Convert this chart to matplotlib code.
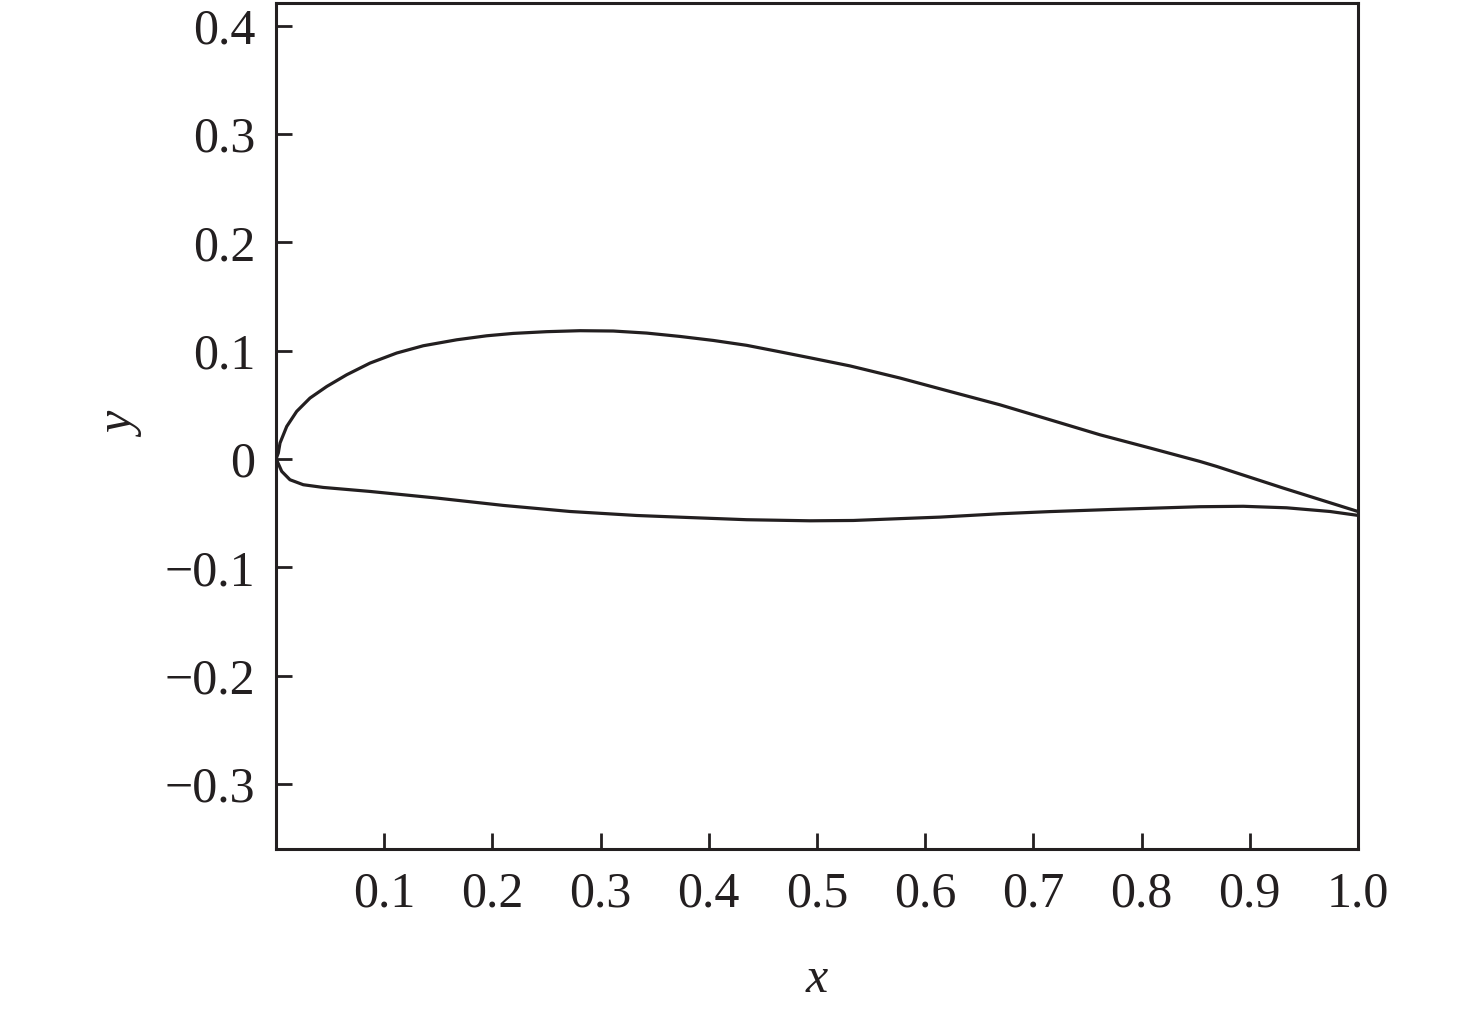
import numpy as np
import matplotlib.pyplot as plt

plt.rcParams['font.family'] = ['Liberation Serif', 'DejaVu Serif']

# upper surface
x_up = [0.0, 0.0021, 0.0037, 0.0099, 0.0191, 0.0314, 0.0469, 0.0653, 0.0869, 0.1116,
        0.1361, 0.1670, 0.1947, 0.2193, 0.2502, 0.2810, 0.3117, 0.3426, 0.3734, 0.4042,
        0.4350, 0.4658, 0.4935, 0.5305, 0.5767, 0.6229, 0.6691, 0.7153, 0.7616, 0.8078,
        0.8540, 0.8694, 0.9310, 1.0]
y_up = [0.0, 0.0055, 0.0148, 0.0301, 0.0440, 0.0563, 0.0670, 0.0778, 0.0886, 0.0979,
        0.1046, 0.1101, 0.1138, 0.1160, 0.1176, 0.1185, 0.1182, 0.1163, 0.1132, 0.1095,
        0.1050, 0.0990, 0.0935, 0.0860, 0.0748, 0.0624, 0.0501, 0.0363, 0.0224, 0.0102,
        -0.0022, -0.0068, -0.0268, -0.0484]

# lower surface
x_lo = [0.0, 0.0012, 0.0053, 0.0129, 0.0252, 0.0437, 0.0869, 0.1485, 0.2101, 0.2717,
        0.3334, 0.3796, 0.4350, 0.4935, 0.5336, 0.5767, 0.6137, 0.6691, 0.7153, 0.7738,
        0.8540, 0.8940, 0.9341, 0.9741, 1.0]
y_lo = [0.0, -0.0022, -0.0114, -0.0191, -0.0237, -0.0262, -0.0299, -0.0360, -0.0428,
        -0.0484, -0.0521, -0.0539, -0.0560, -0.0570, -0.0567, -0.0550, -0.0536, -0.0505,
        -0.0485, -0.0465, -0.0440, -0.0436, -0.0450, -0.0484, -0.0520]

xticks = [0.1, 0.2, 0.3, 0.4, 0.5, 0.6, 0.7, 0.8, 0.9, 1.0]
xlabels = ['0.1', '0.2', '0.3', '0.4', '0.5', '0.6', '0.7', '0.8', '0.9', '1.0']
yticks = [-0.3, -0.2, -0.1, 0, 0.1, 0.2, 0.3, 0.4]
ylabels = ['\u22120.3', '\u22120.2', '\u22120.1', '0', '0.1', '0.2', '0.3', '0.4']

fig = plt.figure(figsize=(14.76, 10.10), dpi=100)
ax = fig.add_axes([0.187, 0.1594, 0.733, 0.8376])

for xs, ys in [(x_up, y_up), (x_lo, y_lo)]:
    ax.plot(xs, ys, color='#231f20', lw=2.3, solid_joinstyle='round',
            solid_capstyle='round')

ax.set_xlim(0, 1.0)
ax.set_ylim(-0.36, 0.421)
ax.set_xticks(xticks)
ax.set_xticklabels(xlabels)
ax.set_yticks(yticks)
ax.set_yticklabels(ylabels)
ax.tick_params(direction='in', length=11.5, width=2, labelsize=36, colors='#231f20')
ax.tick_params(axis='x', pad=16)
ax.tick_params(axis='y', pad=15)
for s in ax.spines.values():
    s.set_linewidth(2.2)
    s.set_color('#231f20')

ax.set_xlabel('x', fontsize=36, style='italic', labelpad=28, color='#231f20')
ax.set_ylabel('y', fontsize=36, style='italic', labelpad=13, color='#231f20')

fig.savefig('out.png', dpi=100)
